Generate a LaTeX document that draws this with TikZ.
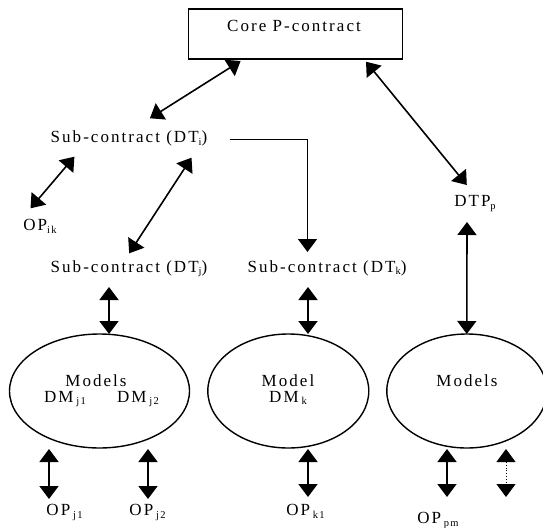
\documentclass[tikz,border=0pt]{standalone}
\usepackage{fontspec}
\setmainfont{Liberation Serif}[LetterSpace=12]
\usetikzlibrary{arrows.meta,calc,shapes.geometric}
% lowered small text used for indices
\newcommand\subtx[1]{\raisebox{-2.5pt}{\fontsize{10.5}{10.5}\selectfont #1}}
\begin{document}
\begin{tikzpicture}[x=1pt,y=-1pt,
  font=\fontsize{17}{19}\selectfont,
  lbl/.style={inner sep=0pt, anchor=base},
  corebox/.style={draw, line width=1.5pt, minimum width=214pt, minimum height=50pt, inner sep=0pt},
  oval/.style={draw, ellipse, line width=1.4pt, inner sep=0pt},
  tip/.tip={Triangle[length=13pt,width=19pt]},
  dbl/.style={tip-tip, line width=1.6pt},
  sgl/.style={-tip, line width=1.4pt}]
\useasboundingbox (0,0) rectangle (543,527);

% boxes and ovals
\node[corebox] (core) at (295.7,34.2) {};
\node[lbl] (coretxt) at (294,31.5) {Core P-contract};
\node[oval, minimum width=180pt, minimum height=114pt] (e1) at (99.5,391) {};
\node[oval, minimum width=161pt, minimum height=114pt] (e2) at (288.3,391) {};
\node[oval, minimum width=160pt, minimum height=114pt] (e3) at (466.8,391) {};

% texts (placed by baseline)
\node[lbl] (subi) at (129,142.5) {Sub-contract (DT\subtx{i})};
\node[lbl] (subj) at (129,272) {Sub-contract (DT\subtx{j})};
\node[lbl] (subk) at (327,272) {Sub-contract (DT\subtx{k})};
\node[lbl] (dtpp) at (475,206.5) {DTP\subtx{p}};
\node[lbl] (opik) at (40,230.5) {OP\subtx{ik}};
\node[lbl] (m1) at (96,386) {Models};
\node[lbl] (dmj1) at (65,402) {DM\,\subtx{j1}};
\node[lbl] (dmj2) at (138,402) {DM\,\subtx{j2}};
\node[lbl] (m2) at (288,386) {Model};
\node[lbl] (dmk) at (288,402) {DM\,\subtx{k}};
\node[lbl] (m3) at (467,386) {Models};
\node[lbl] (opj1) at (64.5,515.5) {OP\,\subtx{j1}};
\node[lbl] (opj2) at (147.5,515.5) {OP\,\subtx{j2}};
\node[lbl] (opk1) at (305.5,515.5) {OP\,\subtx{k1}};
\node[lbl] (oppm) at (438,523.5) {OP\,\subtx{pm}};
\coordinate (pmfree) at (506,497);

% connectors
\draw[dbl] ($(core)+(-55.1,26.8)$) -- ($(subi.base)+(20.9,-24.2)$);
\draw[dbl] ($(core)+(70.3,27.5)$) -- ($(dtpp.base)+(-8.2,-21.5)$);
\draw[sgl] ($(subi.base)+(100.6,-3.2)$) -| ($(subk.base)+(-19.5,-20)$);
\draw[dbl] ($(subi.base)+(-54.6,14.2)$) -- ($(opik.base)+(-9.5,-22.2)$);
\draw[dbl] ($(subi.base)+(62.5,15.2)$) -- ($(subj.base)+(0.2,-18.7)$);
\draw[dbl] ($(subj.base)+(-20,15)$) -- ($(e1)+(9.5,-57)$);
\draw[dbl] ($(subk.base)+(-19,15)$) -- ($(e2)+(19.7,-57)$);
\draw[dbl] ($(dtpp.base)+(-8,15.5)$) -- ($(e3)+(0,-57)$);
\draw[dbl] ($(e1)+(-50.5,58)$) -- ($(opj1.base)+(-15.5,-16.5)$);
\draw[dbl] ($(e1)+(48.5,58)$) -- ($(opj2.base)+(0.5,-16.5)$);
\draw[dbl] ($(e2)+(19.7,58)$) -- ($(opk1.base)+(2.5,-18.5)$);
\draw[dbl] ($(e3)+(-19.8,58)$) -- ($(oppm.base)+(9,-26.5)$);
\draw[tip-tip, line width=0.9pt, dotted] ($(e3)+(39.2,58)$) -- (pmfree);
\end{tikzpicture}
\end{document}
